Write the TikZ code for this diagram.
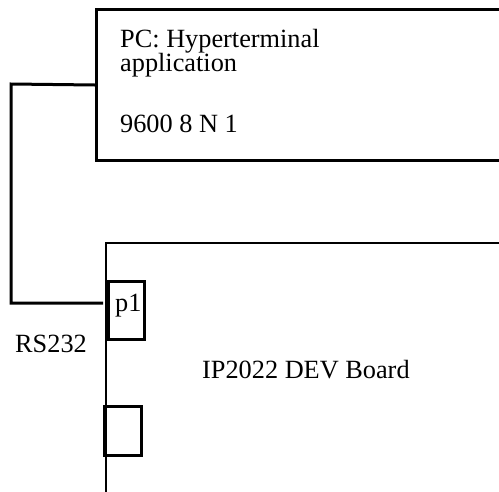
\documentclass[tikz,border=0pt]{standalone}
\usepackage{fontspec}
\setmainfont{Liberation Serif}
\begin{document}
\begin{tikzpicture}[x=1pt,y=-1pt,
  txt/.style={anchor=base west,inner sep=0pt,font=\fontsize{26.3}{25}\selectfont},
  thick3/.style={line width=3pt},
  port/.style={draw,line width=2.5pt,inner sep=0pt,anchor=north west}]
\clip (0,0) rectangle (499,491);
% PC box
\node[draw,thick3,minimum width=425pt,minimum height=151pt,inner sep=0pt,anchor=north west] (pc) at (95,8) {};
\node[txt] (t1) at (120,47) {PC: Hyperterminal};
\node[txt] (t2) at (120,71) {application};
\node[txt] (t3) at (120,132) {9600 8 N 1};
% board
\node[draw,line width=2pt,minimum width=420pt,minimum height=280pt,inner sep=0pt,anchor=north west] (board) at (105,242) {};
\node[txt] (bl) at (202,378) {IP2022 DEV Board};
% ports
\node[port,minimum width=36pt,minimum height=58pt] (p1) at (107,280) {};
\node[txt] (p1t) at (115,311) {p1};
\node[port,minimum width=37pt,minimum height=49pt] (p2) at (103,405) {};
% connector
\coordinate (c1) at (11,84);
\coordinate (c2) at (11,303);
\coordinate (c3) at (103,303);
\draw[thick3] (pc.west) -- (c1) -- (c2) -- (c3);
\node[txt] (rs) at (15,352) {RS232};
\end{tikzpicture}
\end{document}
